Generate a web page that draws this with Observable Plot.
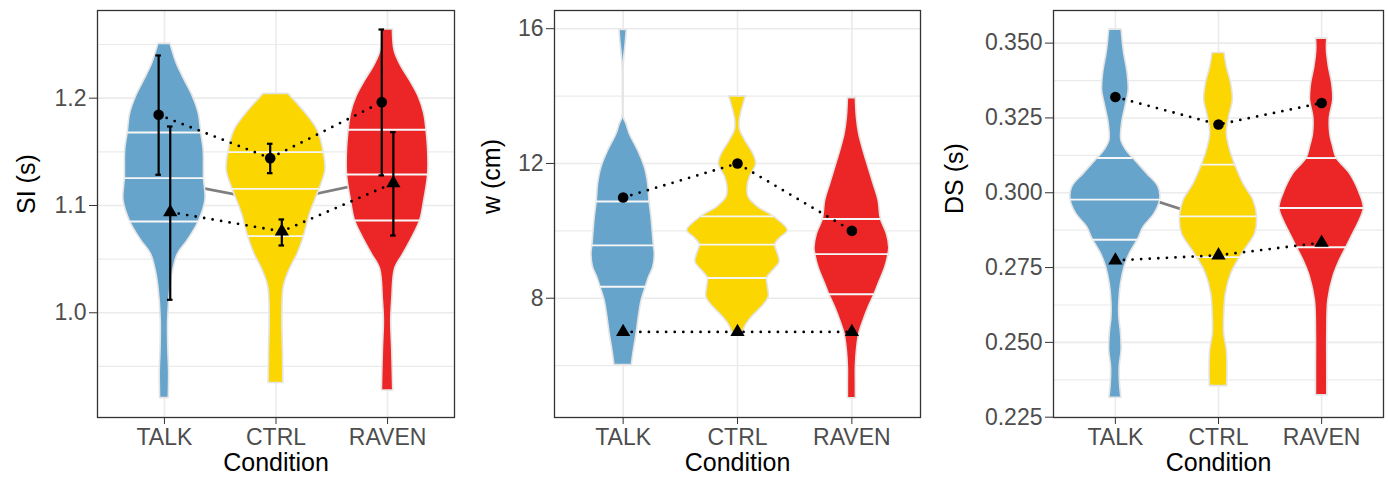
<!DOCTYPE html>
<html><head><meta charset="utf-8">
<script src="https://cdn.jsdelivr.net/npm/d3@7"></script>
<script src="https://cdn.jsdelivr.net/npm/@observablehq/plot@0.6"></script>
<style>
body{margin:0;background:#fff;}
#wrap{position:relative;width:1388px;height:480px;overflow:hidden;}
#wrap > div{position:absolute;top:0;}
</style></head><body>
<div id="wrap"><div id="p1" style="left:0px"></div><div id="p2" style="left:460px"></div><div id="p3" style="left:925px"></div></div>
<script>
const conditions = ["TALK", "CTRL", "RAVEN"];
const colors = ["#67A4CC", "#FBD600", "#EC2626"];

// ---- Panel 1: SI (s) ---- violin profiles: [value, half-width in category units]
const siViolinTalk = [[1.2506,0.054],[1.2320,0.111],[1.2165,0.182],[1.2009,0.257],[1.1854,0.308],[1.1680,0.329],[1.1512,0.352],[1.1255,0.355],[1.1047,0.367],[1.0851,0.308],[1.0674,0.209],[1.0550,0.122],[1.0394,0.078],[1.0239,0.054],[0.9929,0.033],[0.9618,0.036],[0.9463,0.042],[0.9205,0.039]];
const siViolinCtrl = [[1.2040,0.111],[1.1854,0.269],[1.1699,0.373],[1.1497,0.427],[1.1326,0.442],[1.1155,0.391],[1.0922,0.305],[1.0714,0.251],[1.0550,0.194],[1.0394,0.119],[1.0239,0.069],[0.9929,0.057],[0.9618,0.063],[0.9345,0.066]];
const siViolinRaven = [[1.2640,0.048],[1.2444,0.063],[1.2320,0.111],[1.2165,0.200],[1.2009,0.281],[1.1854,0.329],[1.1705,0.349],[1.1512,0.364],[1.1289,0.364],[1.1047,0.329],[1.0860,0.293],[1.0705,0.224],[1.0550,0.143],[1.0410,0.068],[1.0115,0.042],[0.9929,0.033],[0.9649,0.042],[0.9276,0.051]];
const siQuartiles = [
  [[1.1680,0.329],[1.1255,0.355],[1.0851,0.308]],
  [[1.1497,0.427],[1.1155,0.391],[1.0714,0.251]],
  [[1.1705,0.349],[1.1289,0.364],[1.0860,0.293]]
];
const siCircle = [1.1845, 1.1441, 1.1963];
const siCircleErr = [[1.1286,1.2398],[1.1301,1.1575],[1.1280,1.2640]];
const siTriangle = [1.0938, 1.0758, 1.1208];
const siTriangleErr = [[1.0121,1.1736],[1.0627,1.0870],[1.0720,1.1683]];
const siGrey = [1.123, 1.103, 1.125];
const siTicks = [1.0, 1.1, 1.2];
const siMinor = [0.95, 1.05, 1.15, 1.25];

// ---- Panel 2: w (cm) ----
const wViolinTalk = [[15.96,0.032],[15.54,0.022],[15.15,0.010],[14.76,0.003],[14.00,0.002],[13.36,0.006],[13.17,0.029],[12.87,0.058],[12.38,0.131],[11.88,0.190],[11.39,0.219],[10.87,0.231],[10.40,0.248],[9.57,0.269],[9.31,0.277],[8.91,0.263],[8.61,0.225],[8.34,0.199],[7.92,0.161],[7.43,0.137],[6.93,0.117],[6.44,0.093],[6.02,0.076]];
const wViolinCtrl = [[13.99,0.073],[13.60,0.040],[13.28,0.020],[13.00,0.022],[12.68,0.067],[12.29,0.137],[11.99,0.164],[11.59,0.108],[11.30,0.088],[11.00,0.096],[10.70,0.181],[10.43,0.315],[10.01,0.440],[9.81,0.380],[9.59,0.330],[9.32,0.353],[9.07,0.368],[8.82,0.312],[8.60,0.260],[8.33,0.266],[8.03,0.272],[7.73,0.210],[7.43,0.123],[7.14,0.064],[6.99,0.050]];
const wViolinRaven = [[13.94,0.035],[13.37,0.044],[12.87,0.064],[12.38,0.102],[11.88,0.146],[11.39,0.190],[10.89,0.234],[10.35,0.254],[9.90,0.307],[9.50,0.327],[9.31,0.321],[8.91,0.292],[8.42,0.234],[8.12,0.199],[7.72,0.146],[7.33,0.102],[6.93,0.064],[6.44,0.044],[5.94,0.035],[5.45,0.035],[5.03,0.035]];
const wQuartiles = [
  [[10.87,0.231],[9.57,0.269],[8.34,0.199]],
  [[10.43,0.315],[9.59,0.330],[8.60,0.260]],
  [[10.35,0.254],[9.31,0.321],[8.12,0.199]]
];
const wCircle = [10.99, 12.0, 10.0];
const wTriangle = [7.0, 7.0, 7.0];
const wTicks = [8, 12, 16];
const wMinor = [6, 10, 14];

// ---- Panel 3: DS (s) ----
const dsViolinTalk = [[0.3545,0.061],[0.3476,0.081],[0.3398,0.119],[0.3342,0.129],[0.3286,0.097],[0.3231,0.065],[0.3175,0.058],[0.3142,0.106],[0.3116,0.171],[0.3064,0.306],[0.3019,0.419],[0.2977,0.435],[0.2930,0.381],[0.2885,0.274],[0.2843,0.219],[0.2796,0.139],[0.2752,0.090],[0.2696,0.055],[0.2640,0.039],[0.2584,0.038],[0.2529,0.055],[0.2473,0.060],[0.2417,0.042],[0.2362,0.045],[0.2315,0.058]];
const dsViolinCtrl = [[0.3467,0.058],[0.3420,0.081],[0.3364,0.123],[0.3309,0.139],[0.3253,0.103],[0.3197,0.081],[0.3142,0.113],[0.3094,0.161],[0.3030,0.242],[0.2974,0.339],[0.2921,0.374],[0.2863,0.355],[0.2818,0.274],[0.2785,0.210],[0.2729,0.123],[0.2662,0.071],[0.2584,0.055],[0.2529,0.055],[0.2473,0.081],[0.2417,0.087],[0.2354,0.084]];
const dsViolinRaven = [[0.3515,0.055],[0.3476,0.052],[0.3420,0.071],[0.3364,0.103],[0.3309,0.113],[0.3253,0.081],[0.3197,0.084],[0.3153,0.113],[0.3116,0.145],[0.3064,0.274],[0.2997,0.371],[0.2949,0.410],[0.2908,0.371],[0.2863,0.306],[0.2818,0.242],[0.2774,0.177],[0.2718,0.113],[0.2640,0.065],[0.2529,0.055],[0.2417,0.055],[0.2323,0.055]];
const dsQuartiles = [
  [[0.3116,0.171],[0.2977,0.435],[0.2843,0.219]],
  [[0.3094,0.161],[0.2921,0.374],[0.2785,0.210]],
  [[0.3116,0.145],[0.2949,0.410],[0.2818,0.242]]
];
const dsCircle = [0.3320, 0.3228, 0.3300];
const dsTriangle = [0.2774, 0.2791, 0.2833];
const dsGrey = [0.3016, 0.2905];
const dsTicks = [0.225, 0.250, 0.275, 0.300, 0.325, 0.350];
const dsMinor = [0.2375, 0.2625, 0.2875, 0.3125, 0.3375];

const FONT = "'Liberation Sans', Arial, Helvetica, sans-serif";

function panel(cfg) {
  const pos = i => i + 1;
  const dodge = cfg.dodge || 0;
  const qData = cfg.quartiles.flatMap((rows, i) => rows.map(([y, w]) => ({i, y, w})));
  const up = cfg.upper.map((y, i) => ({x: pos(i) - dodge, y, lo: cfg.upperErr ? cfg.upperErr[i][0] : null, hi: cfg.upperErr ? cfg.upperErr[i][1] : null}));
  const low = cfg.lower.map((y, i) => ({x: pos(i) + dodge, y, lo: cfg.lowerErr ? cfg.lowerErr[i][0] : null, hi: cfg.lowerErr ? cfg.lowerErr[i][1] : null}));
  const grid = {stroke: "#EBEBEB", strokeOpacity: 1};
  const marks = [
    Plot.gridY(cfg.minor, {...grid, strokeWidth: 1.2}),
    Plot.gridY(cfg.ticks, {...grid, strokeWidth: 1.6}),
    Plot.gridX([1, 2, 3], {...grid, strokeWidth: 1.6}),
  ];
  if (cfg.grey) marks.push(Plot.line(cfg.grey.map((y, i) => ({x: pos(i), y})), {x: "x", y: "y", stroke: "#7F7F7F", strokeWidth: 2.8}));
  cfg.violins.forEach((rows, i) => {
    marks.push(Plot.areaX(rows, {y: d => d[0], x1: d => pos(i) - d[1], x2: d => pos(i) + d[1], fill: colors[i], stroke: "#E4E4E4", strokeWidth: 1.6, curve: "catmull-rom"}));
  });
  marks.push(Plot.ruleY(qData, {y: "y", x1: d => pos(d.i) - d.w, x2: d => pos(d.i) + d.w, stroke: "#F6F6F6", strokeWidth: 1.9}));
  if (cfg.upperErr) {
    for (const pts of [up, low]) {
      marks.push(Plot.ruleX(pts, {x: "x", y1: "lo", y2: "hi", stroke: "black", strokeWidth: 2.2}));
      marks.push(Plot.ruleY(pts, {y: "lo", x1: d => d.x - 0.025, x2: d => d.x + 0.025, stroke: "black", strokeWidth: 2.2}));
      marks.push(Plot.ruleY(pts, {y: "hi", x1: d => d.x - 0.025, x2: d => d.x + 0.025, stroke: "black", strokeWidth: 2.2}));
    }
  }
  const dotted = {x: "x", y: "y", stroke: "black", strokeWidth: 2.8, strokeDasharray: "0 8.6", strokeLinecap: "round"};
  marks.push(Plot.line(up, dotted), Plot.line(low, dotted));
  marks.push(Plot.dot(up, {x: "x", y: "y", r: 5.3, fill: "black", symbol: "circle"}));
  marks.push(Plot.dot(low, {x: "x", y: "y", r: 5.3, fill: "black", symbol: "triangle"}));
  marks.push(Plot.frame({stroke: "#333333", strokeWidth: 1.3}));
  marks.push(Plot.axisY(cfg.ticks, {tickSize: 8, tickPadding: 3, tickFormat: cfg.format, stroke: "#333333", fill: "#4D4D4D", label: null, fontSize: 23}));
  marks.push(Plot.axisX([1, 2, 3], {tickSize: 7, tickPadding: 4, tickFormat: d => conditions[d - 1], stroke: "#333333", fill: "#4D4D4D", label: null, fontSize: 23}));
  marks.push(Plot.text([cfg.label], {frameAnchor: "left", dx: cfg.labelDx, rotate: -90, fontSize: 25, fill: "black"}));
  marks.push(Plot.text(["Condition"], {frameAnchor: "bottom", dy: 53, fontSize: 25, fill: "black"}));
  return Plot.plot({
    width: cfg.width, height: 480,
    marginLeft: cfg.marginLeft, marginRight: cfg.marginRight, marginTop: 10, marginBottom: 63,
    x: {domain: [0.4, 3.6]},
    y: {domain: cfg.domain},
    style: {fontFamily: FONT, fontSize: "23px", background: "white", overflow: "visible"},
    marks
  });
}

document.getElementById("p1").appendChild(panel({
  width: 460, marginLeft: 97, marginRight: 6, domain: [0.9024, 1.2817],
  ticks: siTicks, minor: siMinor, format: d3.format(".1f"), label: "SI (s)", labelDx: -71,
  violins: [siViolinTalk, siViolinCtrl, siViolinRaven], quartiles: siQuartiles,
  upper: siCircle, upperErr: siCircleErr, lower: siTriangle, lowerErr: siTriangleErr, dodge: 0.052, grey: siGrey
}));
document.getElementById("p2").appendChild(panel({
  width: 465, marginLeft: 94, marginRight: 5, domain: [4.46, 16.54],
  ticks: wTicks, minor: wMinor, format: d3.format("d"), label: "w (cm)", labelDx: -63,
  violins: [wViolinTalk, wViolinCtrl, wViolinRaven], quartiles: wQuartiles,
  upper: wCircle, lower: wTriangle
}));
document.getElementById("p3").appendChild(panel({
  width: 463, marginLeft: 128, marginRight: 5, domain: [0.2249, 0.3609],
  ticks: dsTicks, minor: dsMinor, format: d3.format(".3f"), label: "DS (s)", labelDx: -99,
  violins: [dsViolinTalk, dsViolinCtrl, dsViolinRaven], quartiles: dsQuartiles,
  upper: dsCircle, lower: dsTriangle, grey: dsGrey
}));
</script>
</body></html>
